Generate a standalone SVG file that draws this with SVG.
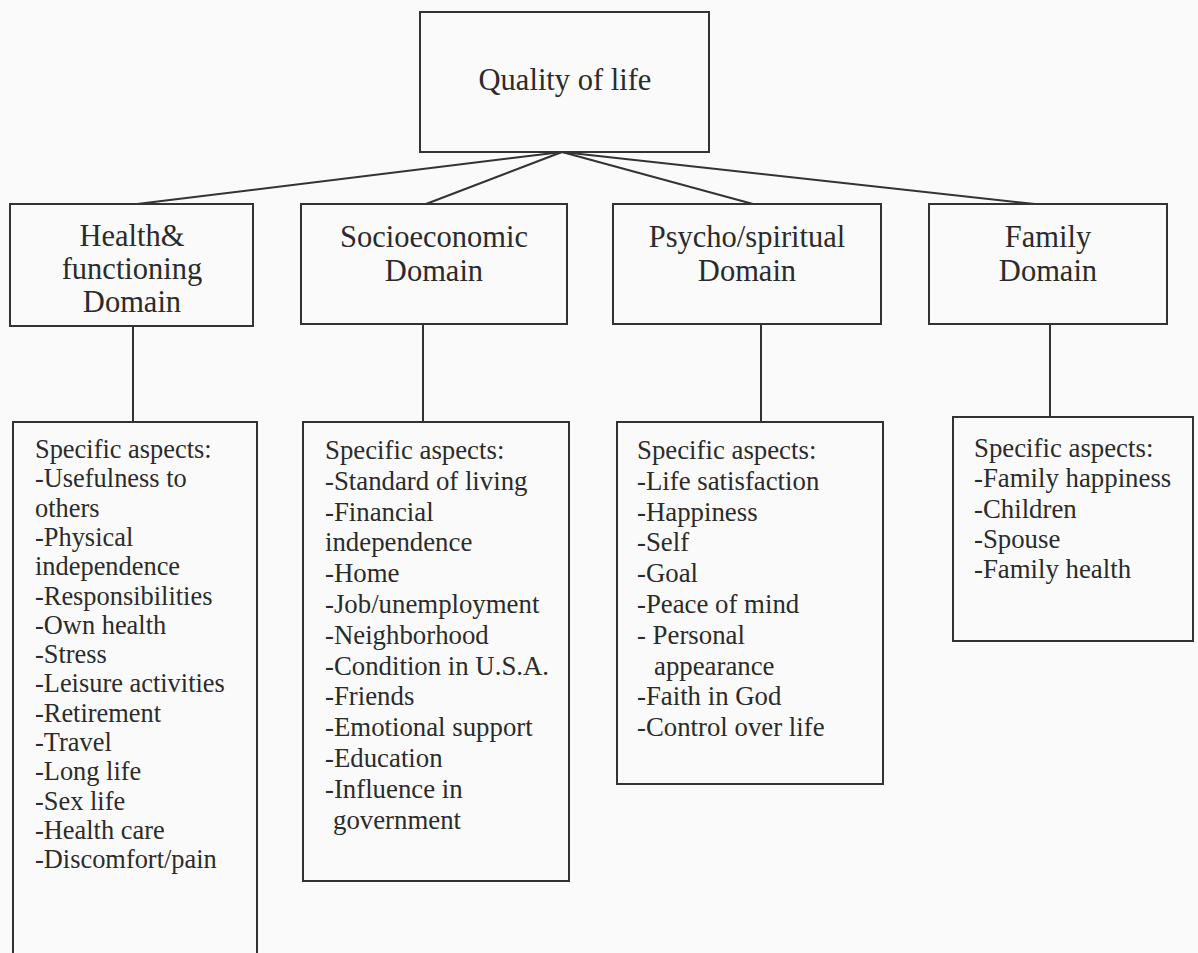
<svg xmlns="http://www.w3.org/2000/svg" width="1198" height="953" viewBox="0 0 1198 953">
<style>
.box{fill:none;stroke:#333;stroke-width:2}
.ln{stroke:#333;stroke-width:2;fill:none}
.t{font-family:"Liberation Serif","Times New Roman",serif;fill:#2b2b2b}
.title{font-size:30.5px;text-anchor:middle}
.list{font-size:26.8px}
.hl{font-size:26.4px}
</style>
<rect width="1198" height="953" fill="#fafafa"/>
<g id="connectors">
<line class="ln" x1="562" y1="152" x2="137" y2="204"/>
<line class="ln" x1="562" y1="152" x2="426" y2="204"/>
<line class="ln" x1="562" y1="152" x2="753" y2="204"/>
<line class="ln" x1="562" y1="152" x2="1035" y2="204"/>
<line class="ln" x1="133" y1="326" x2="133" y2="422"/>
<line class="ln" x1="423" y1="324" x2="423" y2="422"/>
<line class="ln" x1="761" y1="324" x2="761" y2="422"/>
<line class="ln" x1="1050" y1="324" x2="1050" y2="417"/>
</g>
<g id="quality">
<rect class="box" x="420" y="12" width="289" height="140"/>
<text class="t title" x="565" y="90">Quality of life</text>
</g>
<g id="health">
<rect class="box" x="10" y="204" width="243" height="122"/>
<text class="t title" x="132" y="246">Health&amp;</text>
<text class="t title" x="132" y="279">functioning</text>
<text class="t title" x="132" y="312">Domain</text>
</g>
<g id="socio">
<rect class="box" x="301" y="204" width="266" height="120"/>
<text class="t title" x="434" y="247">Socioeconomic</text>
<text class="t title" x="434" y="281">Domain</text>
</g>
<g id="psycho">
<rect class="box" x="613" y="204" width="268" height="120"/>
<text class="t title" x="747" y="247">Psycho/spiritual</text>
<text class="t title" x="747" y="281">Domain</text>
</g>
<g id="family">
<rect class="box" x="929" y="204" width="238" height="120"/>
<text class="t title" x="1048" y="247">Family</text>
<text class="t title" x="1048" y="281">Domain</text>
</g>
<g id="health-aspects">
<rect class="box" x="13" y="422" width="244" height="545"/>
<text class="t hl" x="35" y="458">Specific aspects:</text>
<text class="t hl" x="35" y="487.3">-Usefulness to</text>
<text class="t hl" x="35" y="516.6">others</text>
<text class="t hl" x="35" y="545.9">-Physical</text>
<text class="t hl" x="35" y="575.2">independence</text>
<text class="t hl" x="35" y="604.5">-Responsibilities</text>
<text class="t hl" x="35" y="633.8">-Own health</text>
<text class="t hl" x="35" y="663.1">-Stress</text>
<text class="t hl" x="35" y="692.4">-Leisure activities</text>
<text class="t hl" x="35" y="721.7">-Retirement</text>
<text class="t hl" x="35" y="751">-Travel</text>
<text class="t hl" x="35" y="780.3">-Long life</text>
<text class="t hl" x="35" y="809.6">-Sex life</text>
<text class="t hl" x="35" y="838.9">-Health care</text>
<text class="t hl" x="35" y="868.2">-Discomfort/pain</text>
</g>
<g id="socio-aspects">
<rect class="box" x="303" y="422" width="266" height="459"/>
<text class="t list" x="325" y="459">Specific aspects:</text>
<text class="t list" x="325" y="489.8">-Standard of living</text>
<text class="t list" x="325" y="520.6">-Financial</text>
<text class="t list" x="325" y="551.4">independence</text>
<text class="t list" x="325" y="582.2">-Home</text>
<text class="t list" x="325" y="613">-Job/unemployment</text>
<text class="t list" x="325" y="643.8">-Neighborhood</text>
<text class="t list" x="325" y="674.6">-Condition in U.S.A.</text>
<text class="t list" x="325" y="705.4">-Friends</text>
<text class="t list" x="325" y="736.2">-Emotional support</text>
<text class="t list" x="325" y="767">-Education</text>
<text class="t list" x="325" y="797.8">-Influence in</text>
<text class="t list" x="333" y="828.6">government</text>
</g>
<g id="psycho-aspects">
<rect class="box" x="617" y="422" width="266" height="362"/>
<text class="t list" x="637" y="459">Specific aspects:</text>
<text class="t list" x="637" y="489.8">-Life satisfaction</text>
<text class="t list" x="637" y="520.6">-Happiness</text>
<text class="t list" x="637" y="551.4">-Self</text>
<text class="t list" x="637" y="582.2">-Goal</text>
<text class="t list" x="637" y="613">-Peace of mind</text>
<text class="t list" x="637" y="643.8">- Personal</text>
<text class="t list" x="654" y="674.6">appearance</text>
<text class="t list" x="637" y="705.4">-Faith in God</text>
<text class="t list" x="637" y="736.2">-Control over life</text>
</g>
<g id="family-aspects">
<rect class="box" x="953" y="417" width="240" height="224"/>
<text class="t list" x="974" y="457">Specific aspects:</text>
<text class="t list" x="974" y="487.3">-Family happiness</text>
<text class="t list" x="974" y="517.6">-Children</text>
<text class="t list" x="974" y="547.9">-Spouse</text>
<text class="t list" x="974" y="578.2">-Family health</text>
</g>
</svg>
